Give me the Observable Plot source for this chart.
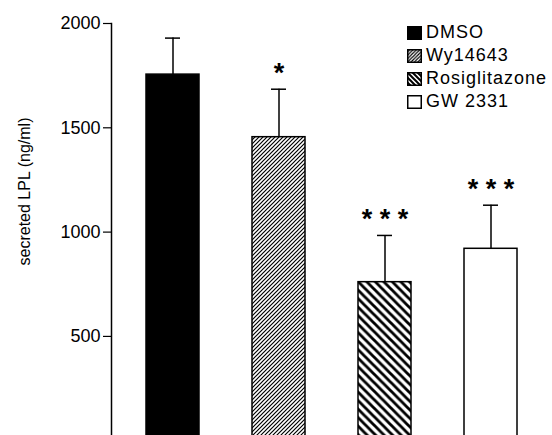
<!DOCTYPE html>
<html><head><meta charset="utf-8">
<script src="https://cdn.jsdelivr.net/npm/d3@7"></script>
<script src="https://cdn.jsdelivr.net/npm/@observablehq/plot@0.6"></script>
<style>
body{margin:0;background:#fff;color:#000;}
#wrap{position:relative;width:552px;height:435px;overflow:hidden;font-family:"Liberation Sans",Arial,sans-serif;}
#legend{position:absolute;left:407px;top:21px;}
.row{display:flex;align-items:center;height:23px;font-size:18px;letter-spacing:1px;color:#000;}
.row svg{margin-right:4px;display:block;}
</style></head><body><div id="wrap"></div>
<script>
// Data
const treatments = ["DMSO", "Wy14643", "Rosiglitazone", "GW 2331"];
const means = [1755, 1455, 760, 920];
const sems = [175, 230, 224, 209];
const signif = ["", "*", "* * *", "* * *"];
const yTicks = [500, 1000, 1500, 2000];
const fills = ["#000", "url(#hatchFine)", "url(#hatchBold)", "#fff"];
const yLabel = "secreted LPL (ng/ml)";

const data = treatments.map((t, i) => ({t, mean: means[i], sem: sems[i], sig: signif[i], fill: fills[i]}));

function patternPath(w, dir) {
  if (dir === "/") return `M-1,1L1,-1M0,${w}L${w},0M${w-1},${w+1}L${w+1},${w-1}`;
  return `M0,0L${w},${w}M-1,${w-1}L1,${w+1}M${w-1},-1L${w+1},1`;
}
function defsMark() {
  const defs = d3.create("svg:defs");
  const p1 = defs.append("pattern").attr("id", "hatchFine").attr("patternUnits", "userSpaceOnUse").attr("width", 4).attr("height", 4);
  p1.append("rect").attr("width", 4).attr("height", 4).attr("fill", "#fff");
  p1.append("path").attr("d", patternPath(4, "/")).attr("stroke", "#000").attr("stroke-width", 1.2);
  const p2 = defs.append("pattern").attr("id", "hatchBold").attr("patternUnits", "userSpaceOnUse").attr("width", 8.5).attr("height", 8.5);
  p2.append("rect").attr("width", 8.5).attr("height", 8.5).attr("fill", "#fff");
  p2.append("path").attr("d", patternPath(8.5, "\\")).attr("stroke", "#000").attr("stroke-width", 2.8);
  return defs.node();
}

const chart = Plot.plot({
  width: 552,
  height: 435,
  marginLeft: 111,
  marginRight: 0,
  marginTop: 23,
  marginBottom: 0,
  style: {fontFamily: '"Liberation Sans", Arial, sans-serif', fontSize: "18px", color: "#000", background: "#fff", overflow: "hidden"},
  x: {domain: treatments, paddingInner: 0.5, paddingOuter: 0.33, axis: null},
  y: {domain: [25, 2000], axis: null},
  color: {type: "identity"},
  marks: [
    defsMark,
    Plot.barY(data, {x: "t", y: "mean", fill: "fill", stroke: "#000", strokeWidth: 1.5, clip: true}),
    Plot.ruleX(data, {x: "t", y1: "mean", y2: d => d.mean + d.sem, stroke: "#000", strokeWidth: 1.5}),
    Plot.tickY(data, {x: "t", y: d => d.mean + d.sem, insetLeft: 19, insetRight: 19, stroke: "#000", strokeWidth: 1.5}),
    Plot.text(data, {x: "t", y: d => d.mean + d.sem, text: "sig", dy: -16, fontSize: 27, fontWeight: "bold", fill: "#000"}),
    Plot.axisY({ticks: yTicks, tickFormat: d3.format("d"), tickSize: 8, tickPadding: 3, label: null, stroke: "#000", fill: "#000", strokeWidth: 1.2}),
    Plot.frame({anchor: "left", stroke: "#000", strokeWidth: 1.5}),
    Plot.text([yLabel], {text: d => d, frameAnchor: "left", textAnchor: "middle", rotate: -90, dx: -87, dy: -38, fontSize: 16, fill: "#000"})
  ]
});
const wrap = document.getElementById("wrap");
wrap.appendChild(chart);

// Legend
const legendFills = [
  {fill: "#000", pat: null},
  {fill: "url(#lgFine)", pat: {id: "lgFine", w: 3.4, dir: "/", sw: 1.2}},
  {fill: "url(#lgBold)", pat: {id: "lgBold", w: 5, dir: "\\", sw: 2}},
  {fill: "#fff", pat: null}
];
const legend = d3.select(wrap).append("div").attr("id", "legend");
treatments.forEach((t, i) => {
  const row = legend.append("div").attr("class", "row");
  const s = row.append("svg").attr("width", 15).attr("height", 14);
  const lf = legendFills[i];
  if (lf.pat) {
    const p = s.append("defs").append("pattern").attr("id", lf.pat.id).attr("patternUnits", "userSpaceOnUse").attr("width", lf.pat.w).attr("height", lf.pat.w);
    p.append("rect").attr("width", lf.pat.w).attr("height", lf.pat.w).attr("fill", "#fff");
    p.append("path").attr("d", patternPath(lf.pat.w, lf.pat.dir)).attr("stroke", "#000").attr("stroke-width", lf.pat.sw);
  }
  s.append("rect").attr("x", 0.75).attr("y", 0.75).attr("width", 13.5).attr("height", 12.5).attr("fill", lf.fill).attr("stroke", "#000").attr("stroke-width", 1.5);
  row.append("span").text(t);
});
</script></body></html>
